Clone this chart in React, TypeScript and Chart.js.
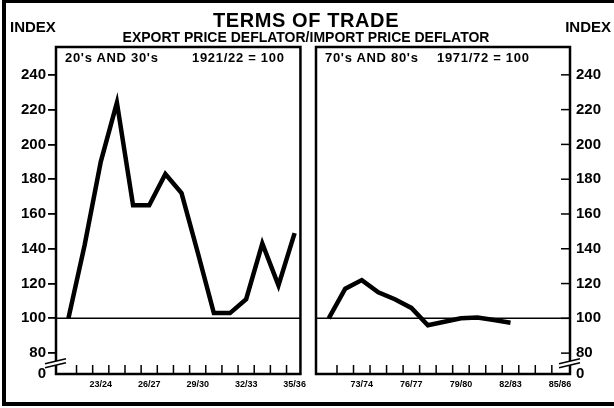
import React, { useEffect, useRef } from "react";
import { Chart, registerables } from "chart.js";
Chart.register(...registerables);

// ---- data ----
const leftYears = ["21/22","22/23","23/24","24/25","25/26","26/27","27/28","28/29","29/30","30/31","31/32","32/33","33/34","34/35","35/36"];
const leftValues = [100,142,190,224,165,165,183,172,138,103,103,111,143,119,149];
const leftTickLabels = ["23/24","26/27","29/30","32/33","35/36"];

const rightYears = ["71/72","72/73","73/74","74/75","75/76","76/77","77/78","78/79","79/80","80/81","81/82","82/83","83/84","84/85","85/86"];
const rightValues = [100,117,122,115,111,106,96,98,100,100.5,99,97.5];
const rightTickLabels = ["73/74","76/77","79/80","82/83","85/86"];

const yTickValues = [80,100,120,140,160,180,200,220,240];
const Y_MIN = 68; // bottom of broken axis, labelled "0"
const Y_MAX = 256;
const BASE = 100;
const BREAK_AT = 74.5;

const FONT = "'Liberation Sans', Arial, Helvetica, sans-serif";

type Side = "left" | "right";

function makePanelPlugin(side: Side, labels: string[]) {
  return {
    id: "panel_" + side,
    beforeDatasetsDraw(chart: any) {
      const { ctx, chartArea: a, scales } = chart;
      const yy = scales.y.getPixelForValue(BASE);
      ctx.save();
      ctx.strokeStyle = "#000";
      ctx.lineWidth = 1.5;
      ctx.beginPath();
      ctx.moveTo(a.left, yy);
      ctx.lineTo(a.right, yy);
      ctx.stroke();
      ctx.restore();
    },
    afterDraw(chart: any) {
      const { ctx, chartArea: a, scales } = chart;
      const x = scales.x, y = scales.y;
      ctx.save();
      ctx.strokeStyle = "#000";
      ctx.lineWidth = 2.5;
      ctx.strokeRect(a.left, a.top, a.right - a.left, a.bottom - a.top);
      // x tick marks at year boundaries, pointing up
      ctx.lineWidth = 1.5;
      for (let i = 0; i < labels.length; i++) {
        const px = x.getPixelForValue(i + 0.5);
        if (px > a.left + 3 && px < a.right - 3) {
          ctx.beginPath();
          ctx.moveTo(px, a.bottom);
          ctx.lineTo(px, a.bottom - 9);
          ctx.stroke();
        }
      }
      if (side === "right") {
        ctx.lineWidth = 1.5;
        for (const v of yTickValues) {
          const py = y.getPixelForValue(v);
          ctx.beginPath();
          ctx.moveTo(a.right - 9, py);
          ctx.lineTo(a.right, py);
          ctx.stroke();
        }
      }
      // axis break
      const cx = side === "left" ? a.left : a.right;
      const cy = y.getPixelForValue(BREAK_AT);
      const x0 = cx - 11, x1 = cx + 10;
      ctx.fillStyle = "#fff";
      ctx.beginPath();
      ctx.moveTo(x0, cy + 1);
      ctx.lineTo(x1, cy - 4);
      ctx.lineTo(x1, cy);
      ctx.lineTo(x0, cy + 5);
      ctx.closePath();
      ctx.fill();
      ctx.lineWidth = 1.6;
      ctx.beginPath();
      ctx.moveTo(x0, cy + 1);
      ctx.lineTo(x1, cy - 4);
      ctx.moveTo(x0, cy + 5);
      ctx.lineTo(x1, cy);
      ctx.stroke();
      ctx.restore();
    },
  };
}

function buildConfig(side: Side, labels: string[], values: number[], tickLabels: string[], xMin: number, xMax: number, padding: any, yWidth: number): any {
  return {
    type: "line",
    data: {
      datasets: [
        {
          data: values.map((v, i) => ({ x: i, y: v })),
          borderColor: "#000",
          borderWidth: 4.5,
          pointRadius: 0,
          tension: 0,
          fill: false,
        },
      ],
    },
    options: {
      responsive: false,
      animation: false,
      devicePixelRatio: 1,
      layout: { padding },
      plugins: { legend: { display: false }, tooltip: { enabled: false }, title: { display: false } },
      scales: {
        x: {
          type: "linear",
          min: xMin,
          max: xMax,
          grid: { display: false, drawTicks: false },
          border: { display: false },
          afterBuildTicks: (s: any) => {
            s.ticks = tickLabels.map((t) => ({ value: labels.indexOf(t) }));
          },
          afterFit: (s: any) => {
            s.height = 34;
          },
          ticks: {
            autoSkip: false,
            maxRotation: 0,
            padding: 5,
            color: "#000",
            font: { family: FONT, size: 9, weight: "bold" },
            callback: (v: any) => labels[v] ?? "",
          },
        },
        y: {
          type: "linear",
          position: side,
          min: Y_MIN,
          max: Y_MAX,
          border: { display: false },
          grid:
            side === "left"
              ? {
                  display: true,
                  drawOnChartArea: false,
                  drawTicks: true,
                  tickLength: 8,
                  lineWidth: 1.8,
                  color: (c: any) => (c.tick && c.tick.value === Y_MIN ? "rgba(0,0,0,0)" : "#000"),
                }
              : { display: false, drawTicks: false },
          afterBuildTicks: (s: any) => {
            s.ticks = [Y_MIN, ...yTickValues].map((v) => ({ value: v }));
          },
          afterFit: (s: any) => {
            s.width = yWidth;
          },
          ticks: {
            autoSkip: false,
            padding: side === "left" ? 2 : 6,
            color: "#000",
            font: { family: FONT, size: 15, weight: "bold" },
            callback: (v: any) => (v === Y_MIN ? "0" : String(v)),
          },
        },
      },
    },
    plugins: [makePanelPlugin(side, labels)],
  };
}

const textBase: React.CSSProperties = {
  position: "absolute",
  fontFamily: FONT,
  fontWeight: "bold",
  color: "#000",
  whiteSpace: "nowrap",
};

export default function App() {
  const leftRef = useRef<HTMLCanvasElement>(null);
  const rightRef = useRef<HTMLCanvasElement>(null);

  useEffect(() => {
    document.body.style.margin = "0";
    const c1 = new Chart(
      leftRef.current as HTMLCanvasElement,
      buildConfig("left", leftYears, leftValues, leftTickLabels, -0.77, 14.36, { left: 0, right: 5, top: 47, bottom: 0 }, 56)
    );
    const c2 = new Chart(
      rightRef.current as HTMLCanvasElement,
      buildConfig("right", rightYears, rightValues, rightTickLabels, -0.77, 14.6, { left: 5, right: 0, top: 47, bottom: 0 }, 44)
    );
    return () => {
      c1.destroy();
      c2.destroy();
    };
  }, []);

  const panelLabel: React.CSSProperties = { ...textBase, top: 51, fontSize: 13, lineHeight: "13px", letterSpacing: 0.7 };

  return (
    <div style={{ position: "fixed", left: 0, top: 0, width: 614, height: 408, overflow: "hidden", background: "#fff" }}>
      <div
        style={{
          position: "absolute",
          left: 2,
          top: 0,
          width: 620,
          height: 399,
          borderTop: "3px solid #000",
          borderLeft: "4px solid #000",
          borderBottom: "4px solid #000",
        }}
      />
      <canvas ref={leftRef} width={311} height={408} style={{ position: "absolute", left: 0, top: 0, display: "block" }} />
      <canvas ref={rightRef} width={303} height={408} style={{ position: "absolute", left: 311, top: 0, display: "block" }} />
      <div style={{ ...textBase, left: 0, width: 612, top: 10, fontSize: 20, lineHeight: "20px", textAlign: "center", letterSpacing: 0.6 }}>
        TERMS OF TRADE
      </div>
      <div style={{ ...textBase, left: 0, width: 612, top: 30, fontSize: 14, lineHeight: "14px", textAlign: "center" }}>
        EXPORT PRICE DEFLATOR/IMPORT PRICE DEFLATOR
      </div>
      <div style={{ ...textBase, left: 10, top: 19, fontSize: 15, lineHeight: "15px" }}>INDEX</div>
      <div style={{ ...textBase, right: 3, top: 19, fontSize: 15, lineHeight: "15px" }}>INDEX</div>
      <div style={{ ...panelLabel, left: 65 }}>20's AND 30's</div>
      <div style={{ ...panelLabel, left: 192 }}>1921/22 = 100</div>
      <div style={{ ...panelLabel, left: 325 }}>70's AND 80's</div>
      <div style={{ ...panelLabel, left: 437 }}>1971/72 = 100</div>
    </div>
  );
}
